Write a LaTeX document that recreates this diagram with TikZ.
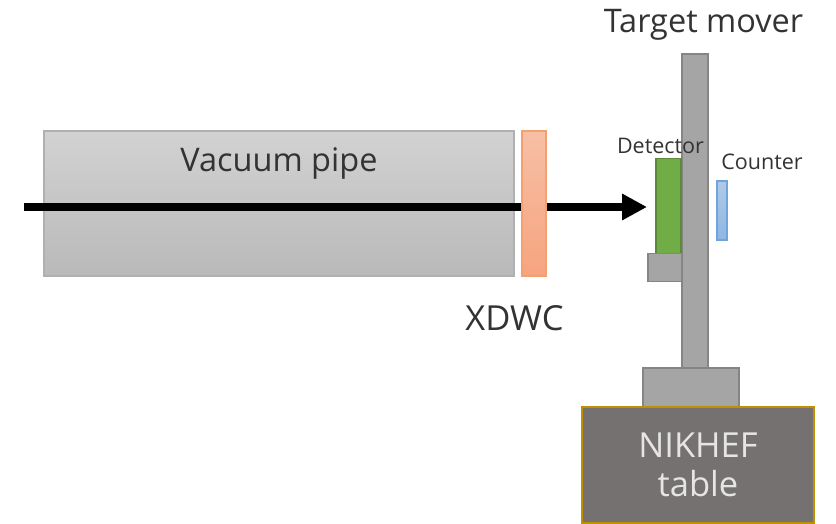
\documentclass[tikz,border=0pt]{standalone}
\usepackage{fontspec}
\setmainfont{Open Sans}
\usetikzlibrary{arrows.meta}
\definecolor{pipeline}{HTML}{B0B0B0}
\definecolor{pipetop}{HTML}{D2D2D2}
\definecolor{pipebottom}{HTML}{B9B9B9}
\definecolor{xdwcline}{HTML}{F4A070}
\definecolor{xdwctop}{HTML}{F7BFA5}
\definecolor{xdwcbottom}{HTML}{F6A47F}
\definecolor{steelline}{HTML}{858585}
\definecolor{steelfill}{HTML}{A5A5A5}
\definecolor{detline}{HTML}{5C8A3A}
\definecolor{detfill}{HTML}{70AD47}
\definecolor{countline}{HTML}{6FA5DC}
\definecolor{counttop}{HTML}{B1C9E8}
\definecolor{countbottom}{HTML}{8DB7E2}
\definecolor{tableline}{HTML}{BF9000}
\definecolor{tablefill}{HTML}{767171}
\definecolor{inktext}{HTML}{333333}
\tikzset{
  part/.style={draw, line width=1.5pt, inner sep=0pt, outer sep=0pt},
  steel/.style={part, draw=steelline, fill=steelfill},
  label/.style={inner sep=0pt, text=inktext, font=\fontsize{32.5}{39}\selectfont},
  widelabel/.style={inner sep=0pt, text=inktext, font=\fontsize{34.5}{39}\selectfont},
  smalllabel/.style={inner sep=0pt, text=inktext, font=\fontsize{21.5}{26}\selectfont}
}
\begin{document}
\begin{tikzpicture}[x=1pt,y=-1pt]
\useasboundingbox (0,0) rectangle (836,524);

\node [part, draw=pipeline, top color=pipetop, bottom color=pipebottom, minimum width=470pt, minimum height=145pt] (pipe) at (279,203.5) {};
\coordinate (beamstart) at (24,207);
\coordinate (beamend) at (647,207);
\draw [line width=8pt, -{Triangle[length=25pt,width=25pt]}] (beamstart) -- (beamend);
\node [part, draw=xdwcline, top color=xdwctop, bottom color=xdwcbottom, minimum width=24pt, minimum height=145pt] (xdwc) at (534,203.5) {};

\node [steel, minimum width=26pt, minimum height=314pt] (mover) at (695,211) {};
\node [part, draw=detline, fill=detfill, minimum width=25pt, minimum height=95pt] (detector) at (668.5,206) {};
\node [steel, minimum width=34pt, minimum height=28pt] (holder) at (665,267.5) {};
\node [part, draw=countline, top color=counttop, bottom color=countbottom, minimum width=10pt, minimum height=59pt] (counter) at (722,210.5) {};
\node [steel, minimum width=96pt, minimum height=39pt] (base) at (691,387.5) {};
\node [part, draw=tableline, fill=tablefill, minimum width=232pt, minimum height=116pt] (table) at (698,465) {};

\node [label] (pipetext) at (279,163) {Vacuum pipe};
\node [widelabel] (xdwctext) at (514.5,318) {XDWC};
\node [label] (movertext) at (703.5,25) {Target mover};
\node [smalllabel] (detectortext) at (660.5,145.5) {Detector};
\node [smalllabel] (countertext) at (762,161.5) {Counter};
\node [widelabel, text=white!90!black, align=center] (tabletext) at (698,464.5) {NIKHEF\\table};

\end{tikzpicture}
\end{document}
